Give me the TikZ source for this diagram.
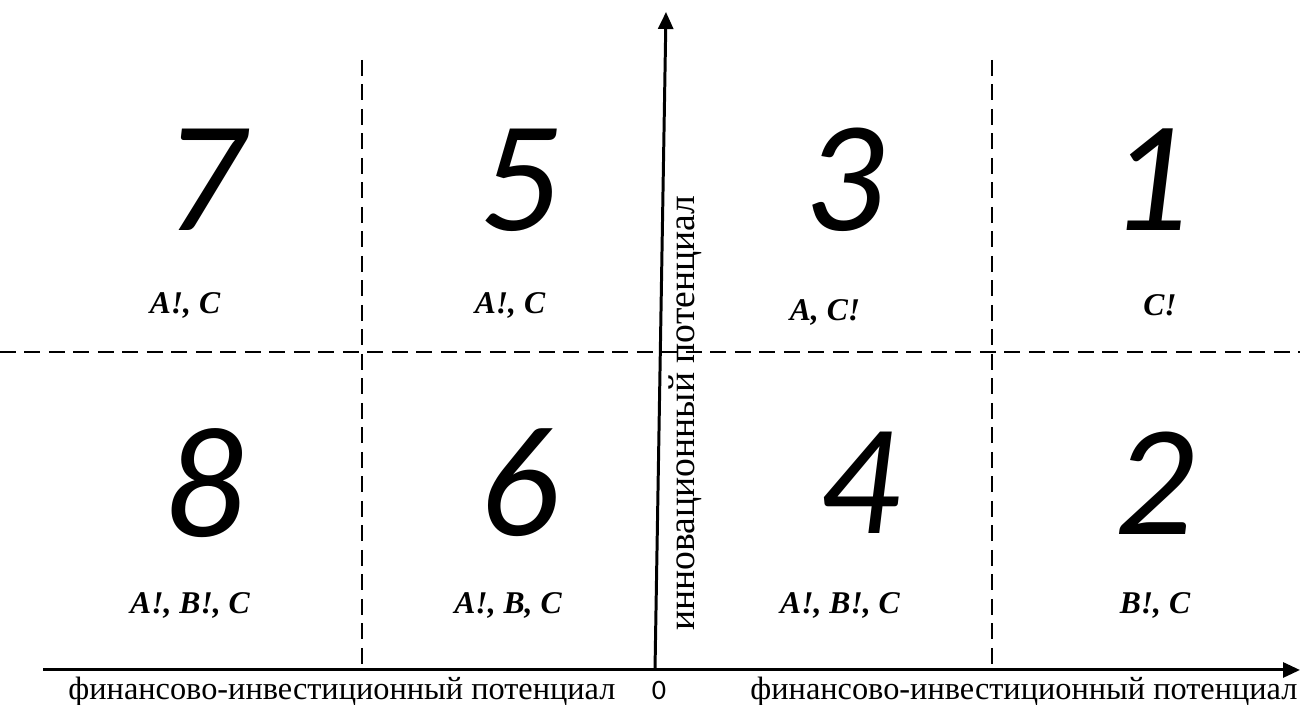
\documentclass[tikz,border=0pt]{standalone}
\usepackage{fontspec}
\setmainfont{Liberation Serif}
\newfontfamily\digitfont{Carlito}
\usetikzlibrary{arrows.meta}

\begin{document}
\begin{tikzpicture}[x=0.1mm,y=-0.1mm,
  num/.style={font=\digitfont\itshape\fontsize{45}{45}\selectfont,inner sep=0pt},
  lbl/.style={font=\bfseries\itshape\fontsize{9}{9}\selectfont,inner sep=0pt},
  axtext/.style={font=\fontsize{9.2}{10}\selectfont,inner sep=0pt},
  axis/.style={line width=0.85pt,-{Triangle[length=1.7mm,width=1.5mm]}},
  grid/.style={line width=0.55pt,dash pattern=on 1.6mm off 0.85mm}]
\useasboundingbox (0,0) rectangle (1300,705);

% --- axes --------------------------------------------------------------
\coordinate (O) at (655,670);
\coordinate (xbeg) at (43,670);
\coordinate (xend) at (1300,670);
\coordinate (yend) at (666,12);
\draw[axis] (xbeg) -- (xend);
\draw[axis] (O) -- (yend);

% --- dashed grid -------------------------------------------------------
\coordinate (hl) at (0,352);
\coordinate (hr) at (1300,352);
\draw[grid] (hl) -- (hr);
\coordinate (v1t) at (362,60);
\coordinate (v1b) at (362,670);
\draw[grid] (v1t) -- (v1b);
\coordinate (v2t) at (992,60);
\coordinate (v2b) at (992,670);
\draw[grid] (v2t) -- (v2b);

% --- upper row ---------------------------------------------------------
\node[num] (n7) at (205,180) {7};
\node[num] (n5) at (520,180) {5};
\node[num] (n3) at (845,180) {3};
\node[num] (n1) at (1150,180) {1};
\node[lbl] (l7) at (185,305) {A!, C};
\node[lbl] (l5) at (510,305) {A!, C};
\node[lbl] (l3) at (825,312) {A, C!};
\node[lbl] (l1) at (1160,305) {C!};

% --- lower row ---------------------------------------------------------
\node[num] (n8) at (205,483) {8};
\node[num] (n6) at (520,483) {6};
\node[num] (n4) at (860,483) {4};
\node[num] (n2) at (1155,483) {2};
\node[lbl] (l8) at (190,605) {A!, B!, C};
\node[lbl] (l6) at (508,605) {A!, B, C};
\node[lbl] (l4) at (840,605) {A!, B!, C};
\node[lbl] (l2) at (1155,605) {B!, C};

% --- axis captions -----------------------------------------------------
\node[axtext,font=\fontsize{10.7}{11}\selectfont,rotate=90] (ycap) at (685,413) {инновационный потенциал};
\node[axtext] (xcapl) at (342,692) {финансово-инвестиционный потенциал};
\node[axtext] (xcapr) at (1024,692) {финансово-инвестиционный потенциал};
\node[font=\digitfont\fontsize{8}{8}\selectfont,inner sep=0pt] (zero) at (659,690) {0};
\end{tikzpicture}
\end{document}
